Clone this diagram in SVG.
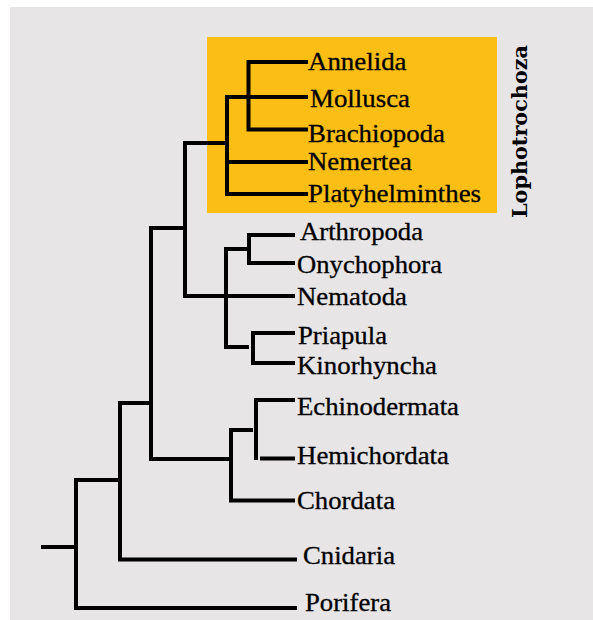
<svg xmlns="http://www.w3.org/2000/svg" width="593" height="620" viewBox="0 0 593 620">
  <style>
    .br { fill: none; stroke: #000; stroke-width: 4; stroke-linejoin: miter; stroke-linecap: butt; }
    .lb { font-size: 24.5px; fill: #000; stroke: #000; stroke-width: 0.3; }
    .grp { font-weight: bold; font-size: 20px; fill: #000; }
  </style>
  <rect x="0" y="0" width="593" height="620" fill="#ffffff"/>
  <rect x="10" y="7" width="583" height="613" fill="#e7e5e6"/>
  <rect id="lophotrochoza-box" x="207" y="37" width="290" height="176" fill="#fbbe14"/>

  <g id="connectors">
    <path class="br" d="M308,62 H248.5 V129.5 H308"/>
    <path class="br" d="M308,97 H227 V194 H308"/>
    <path class="br" d="M227,162 H308"/>
    <path class="br" d="M185,143 H227"/>
    <path class="br" d="M185,141 V296 H295"/>
    <path class="br" d="M295,235 H249 V263 H295"/>
    <path class="br" d="M249,249 H226 V347 H249"/>
    <path class="br" d="M295,333 H253 V363 H295"/>
    <path class="br" d="M185,228 H151 V459 H231"/>
    <path class="br" d="M295,400 H256 V460"/>
    <path class="br" d="M260,458.5 H295"/>
    <path class="br" d="M253,430 H231 V500.5 H295"/>
    <path class="br" d="M151,403 H120 V559.5 H297"/>
    <path class="br" d="M120,480 H76 V608 H297"/>
    <path class="br" d="M41,547 H76"/>
  </g>

  <g font-family="Liberation Serif, Times New Roman, Times, serif">
  <g id="annelida"><text class="lb" x="308" y="70" textLength="98.5" lengthAdjust="spacingAndGlyphs">Annelida</text></g>
  <g id="mollusca"><text class="lb" x="310" y="107" textLength="100" lengthAdjust="spacingAndGlyphs">Mollusca</text></g>
  <g id="brachiopoda"><text class="lb" x="308" y="142" textLength="137" lengthAdjust="spacingAndGlyphs">Brachiopoda</text></g>
  <g id="nemertea"><text class="lb" x="308" y="170" textLength="104" lengthAdjust="spacingAndGlyphs">Nemertea</text></g>
  <g id="platyhelminthes"><text class="lb" x="308" y="202" textLength="173" lengthAdjust="spacingAndGlyphs">Platyhelminthes</text></g>
  <g id="arthropoda"><text class="lb" x="300" y="240" textLength="123" lengthAdjust="spacingAndGlyphs">Arthropoda</text></g>
  <g id="onychophora"><text class="lb" x="297" y="272.5" textLength="145" lengthAdjust="spacingAndGlyphs">Onychophora</text></g>
  <g id="nematoda"><text class="lb" x="297" y="304.5" textLength="110" lengthAdjust="spacingAndGlyphs">Nematoda</text></g>
  <g id="priapula"><text class="lb" x="298" y="343.5" textLength="89" lengthAdjust="spacingAndGlyphs">Priapula</text></g>
  <g id="kinorhyncha"><text class="lb" x="297" y="373.5" textLength="140" lengthAdjust="spacingAndGlyphs">Kinorhyncha</text></g>
  <g id="echinodermata"><text class="lb" x="297" y="415" textLength="162" lengthAdjust="spacingAndGlyphs">Echinodermata</text></g>
  <g id="hemichordata"><text class="lb" x="297" y="463.5" textLength="152" lengthAdjust="spacingAndGlyphs">Hemichordata</text></g>
  <g id="chordata"><text class="lb" x="297" y="508.5" textLength="98" lengthAdjust="spacingAndGlyphs">Chordata</text></g>
  <g id="cnidaria"><text class="lb" x="303" y="564" textLength="92" lengthAdjust="spacingAndGlyphs">Cnidaria</text></g>
  <g id="porifera"><text class="lb" x="305" y="610.5" textLength="86" lengthAdjust="spacingAndGlyphs">Porifera</text></g>
  </g>
  <g id="lophotrochoza-label" font-family="DejaVu Serif, serif"><text class="grp" transform="translate(526.5,218) rotate(-90)" x="0" y="0" textLength="173" lengthAdjust="spacingAndGlyphs">Lophotrochoza</text></g>
</svg>
